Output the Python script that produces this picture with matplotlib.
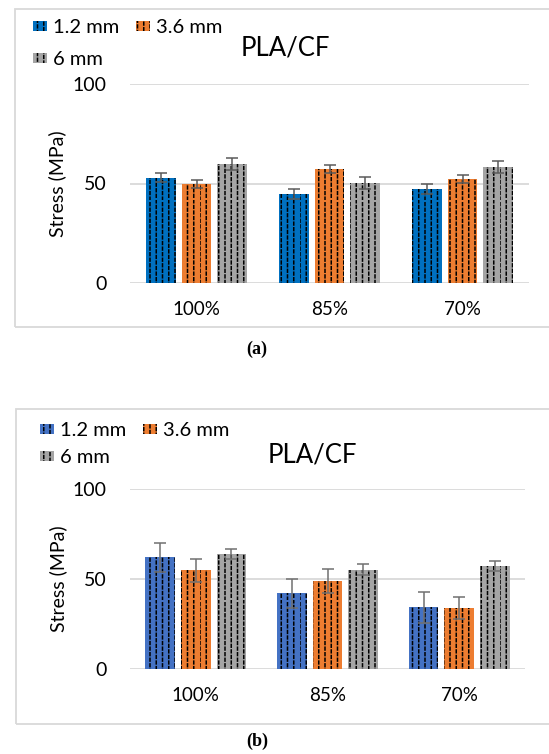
import numpy as np
import matplotlib
matplotlib.use('Agg')
import matplotlib.pyplot as plt
from matplotlib import hatch as mhatch
from matplotlib.path import Path
from matplotlib.patches import Rectangle

# Daten: Zugfestigkeit PLA/CF je Füllgrad und Schichtdicke
categories = ['100%', '85%', '70%']
series = ['1.2 mm', '3.6 mm', '6 mm']

# (a)
a_12 = [53.0, 44.7, 47.2]
a_36 = [49.7, 57.1, 52.3]
a_6 = [59.8, 50.1, 58.5]
a_err_12 = [2.2, 2.4, 2.4]
a_err_36 = [2.0, 2.0, 2.1]
a_err_6 = [2.9, 3.0, 3.0]

# (b)
b_12 = [62.0, 42.0, 34.3]
b_36 = [54.8, 48.9, 33.7]
b_6 = [63.9, 55.2, 57.0]
b_err_12 = [8.2, 8.2, 8.6]
b_err_36 = [6.5, 6.5, 6.1]
b_err_6 = [2.8, 2.9, 2.8]


# Gestrichelte senkrechte Schraffur (wie Excel-Muster) statt durchgehender Linien
class DashedVerticalHatch(mhatch.HatchPatternBase):
    def __init__(self, hatch, density):
        n = hatch.count('|') + hatch.count('+')
        self.num_cols = int(n * density * 8 / 6)
        self.num_rows = int(n * density * 9 / 6)
        self.num_vertices = self.num_cols * self.num_rows * 2

    def set_vertices_and_codes(self, vertices, codes):
        cols = np.repeat(np.linspace(0.0, 1.0, self.num_cols, False), self.num_rows)
        rows = np.tile(np.linspace(0.0, 1.0, self.num_rows, False), self.num_cols)
        shift = np.repeat(np.arange(self.num_cols) % 2, self.num_rows) * 0.5 / self.num_rows
        y0 = rows + shift
        vertices[0::2, 0] = cols
        vertices[0::2, 1] = y0
        vertices[1::2, 0] = cols
        vertices[1::2, 1] = y0 + 0.5 / self.num_rows
        codes[0::2] = Path.MOVETO
        codes[1::2] = Path.LINETO


mhatch._hatch_types[mhatch._hatch_types.index(mhatch.VerticalHatch)] = DashedVerticalHatch

plt.rcParams['font.family'] = ['Lato', 'DejaVu Sans']
plt.rcParams['hatch.linewidth'] = 1.1

W, H = 549, 754
fig = plt.figure(figsize=(W / 100, H / 100), dpi=100)


def px_rect(x0, y0, x1, y1):
    return [x0 / W, 1 - y1 / H, (x1 - x0) / W, (y1 - y0) / H]


def panel(box, axes_px, values, errors, colors, ecolor, title_xy, legend_xy, legend_spacing,
          tag, tag_y):
    # Rahmen des Diagrammbereichs
    bx0, by0, bx1, by1 = box
    fig.add_artist(Rectangle((bx0 / W, 1 - by1 / H), (bx1 - bx0) / W, (by1 - by0) / H,
                             transform=fig.transFigure, fill=False,
                             edgecolor='#D9D9D9', linewidth=1.3))

    ax = fig.add_axes(px_rect(*axes_px))
    x = np.arange(len(categories))
    width = 0.225
    offsets = [-0.27, 0.0, 0.27]
    handles = []
    for vals, errs, off, col, lab in zip(values, errors, offsets, colors, series):
        b = ax.bar(x + off, vals, width, color=col, edgecolor='black', linewidth=0,
                   hatch='||', label=lab, zorder=2)
        ax.errorbar(x + off, vals, yerr=errs, fmt='none', ecolor=ecolor,
                    elinewidth=1.1, capsize=4, capthick=1.1, zorder=3)
        handles.append(b)

    ax.set_xlim(-0.5, 2.5)
    ax.set_ylim(0, 100)
    ax.set_yticks([0, 50, 100])
    ax.set_xticks(x)
    ax.set_xticklabels(categories)
    ax.tick_params(length=0, labelsize=13.5, pad=13)
    ax.tick_params(axis='y', labelsize=14, pad=17)
    ax.grid(axis='y', color='#D9D9D9', linewidth=1.3, zorder=0)
    ax.set_axisbelow(True)
    for s in ax.spines.values():
        s.set_visible(False)
    ax.set_ylabel('Stress (MPa)', fontsize=14)
    ax.yaxis.set_label_coords(-0.16, 0.5)

    fig.text(title_xy[0] / W, 1 - title_xy[1] / H, 'PLA/CF', fontsize=18.5,
             ha='center', va='center')

    fig.legend([handles[0], handles[2], handles[1]], [series[0], series[2], series[1]],
               ncol=2, loc='upper left', bbox_to_anchor=(legend_xy[0] / W, 1 - legend_xy[1] / H),
               frameon=False, borderpad=0, borderaxespad=0, fontsize=14.5,
               handlelength=0.7, handleheight=0.35, handletextpad=0.3,
               columnspacing=0.8, labelspacing=legend_spacing)

    fig.text(257 / W, 1 - tag_y / H, tag, fontsize=13, fontweight='bold',
             family='Liberation Serif', ha='center', va='center')
    return ax


colors_a = ['#0070C0', '#ED7D31', '#A5A5A5']
colors_b = ['#4472C4', '#ED7D31', '#A5A5A5']

panel((15, 9, 560, 327), (130, 84, 529, 283),
      [a_12, a_36, a_6], [a_err_12, a_err_36, a_err_6], colors_a, '#5A5A5A',
      (285, 48), (33, 19), 0.75, '(a)', 349)

panel((16, 409, 560, 724), (130, 489, 525, 669),
      [b_12, b_36, b_6], [b_err_12, b_err_36, b_err_6], colors_b, '#707070',
      (312, 455), (40, 422), 0.5, '(b)', 741)

fig.savefig('out.png', dpi=100)
